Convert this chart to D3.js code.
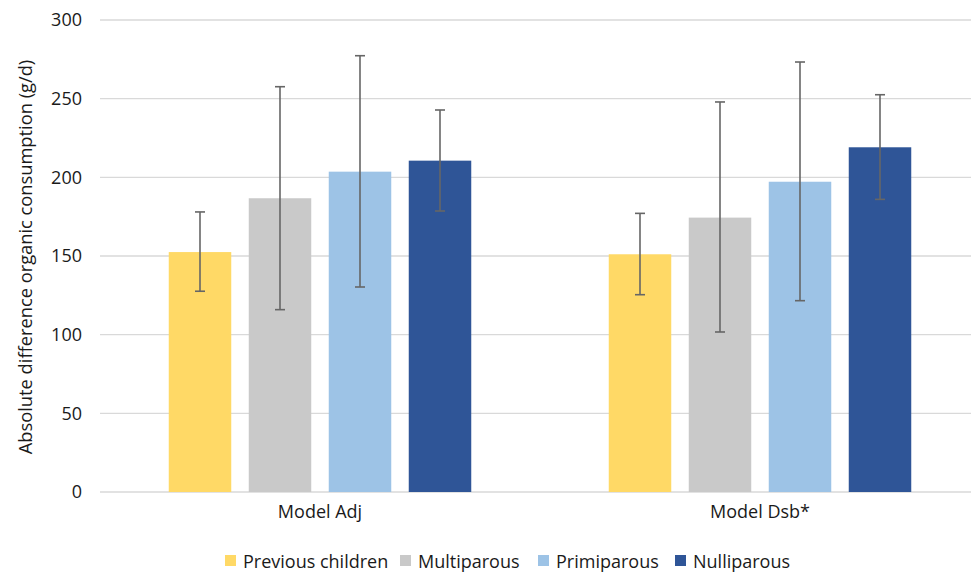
<!DOCTYPE html>
<html>
<head>
<meta charset="utf-8">
<script src="https://cdn.jsdelivr.net/npm/d3@7"></script>
<style>
  html, body { margin: 0; padding: 0; background: #fff; }
  svg { display: block; font-family: "Open Sans", "Noto Sans", sans-serif; }
</style>
</head>
<body>
<svg id="chart" width="971" height="572"></svg>
<script>
// Models compared on the x axis
const models = ["Model Adj", "Model Dsb*"];
// Parity groups (one bar each per model)
const groups = ["Previous children", "Multiparous", "Primiparous", "Nulliparous"];
const groupColors = ["#FFD966", "#C9C9C9", "#9DC3E6", "#2F5597"];
// Estimates per group, one value per model
const estPrevious    = [152.5, 151.1];
const estMultiparous = [186.7, 174.4];
const estPrimiparous = [203.6, 197.2];
const estNulliparous = [210.6, 219.1];
// Lower / upper limits of the error bars
const lowPrevious    = [127.6, 125.4];
const highPrevious   = [178.0, 177.1];
const lowMultiparous = [115.9, 101.7];
const highMultiparous= [257.6, 247.9];
const lowPrimiparous = [130.3, 121.6];
const highPrimiparous= [277.3, 273.3];
const lowNulliparous = [178.6, 186.0];
const highNulliparous= [242.8, 252.5];
const yTicks = [0, 50, 100, 150, 200, 250, 300];
const yTitle = "Absolute difference organic consumption (g/d)";

const estimates = [estPrevious, estMultiparous, estPrimiparous, estNulliparous];
const lows = [lowPrevious, lowMultiparous, lowPrimiparous, lowNulliparous];
const highs = [highPrevious, highMultiparous, highPrimiparous, highNulliparous];

const rows = [];
models.forEach((m, mi) => {
  groups.forEach((g, gi) => {
    rows.push({ model: m, group: g, gi, value: estimates[gi][mi], low: lows[gi][mi], high: highs[gi][mi] });
  });
});

const svg = d3.select("#chart");
const plotLeft = 100, plotRight = 980, plotTop = 20, plotBottom = 492;
const textColor = "#1a1a1a";

const x0 = d3.scaleBand().domain(models).range([plotLeft, plotRight]).paddingInner(0).paddingOuter(0);
// Bars within a model: ~62.5 px wide with ~17.5 px gaps, group centred in its band
const groupWidth = 302.5;
const x1 = d3.scaleBand().domain(groups).range([0, groupWidth]).paddingInner(17.5 / 80).paddingOuter(0);
const y = d3.scaleLinear().domain([0, 300]).range([plotBottom, plotTop]);

// Gridlines
svg.append("g")
  .selectAll("line")
  .data(yTicks)
  .join("line")
  .attr("x1", plotLeft).attr("x2", plotRight)
  .attr("y1", d => y(d)).attr("y2", d => y(d))
  .attr("stroke", "#D9D9D9")
  .attr("stroke-width", 1.3);

// Y axis labels
const yAxis = d3.axisLeft(y).tickValues(yTicks).tickSize(0).tickPadding(18);
const yg = svg.append("g").attr("transform", `translate(${plotLeft},0)`).call(yAxis);
yg.select(".domain").remove();
yg.selectAll("text").attr("font-size", 18).attr("fill", textColor).attr("font-family", "Open Sans, sans-serif");

// Y title
svg.append("text")
  .attr("transform", `translate(24,${(plotTop + plotBottom) / 2 + 1}) rotate(-90)`)
  .attr("text-anchor", "middle")
  .attr("dominant-baseline", "central")
  .attr("font-size", 18.3)
  .attr("fill", textColor)
  .text(yTitle);

// Bars
const bx = d => x0(d.model) + (x0.bandwidth() - groupWidth) / 2 + x1(d.group);
svg.append("g")
  .selectAll("rect")
  .data(rows)
  .join("rect")
  .attr("x", bx)
  .attr("y", d => y(d.value))
  .attr("width", x1.bandwidth())
  .attr("height", d => y(0) - y(d.value))
  .attr("fill", d => groupColors[d.gi]);

// Error bars
const eb = svg.append("g").attr("stroke", "#666666").attr("stroke-width", 1.6);
rows.forEach(d => {
  const cx = bx(d) + x1.bandwidth() / 2;
  eb.append("line").attr("x1", cx).attr("x2", cx).attr("y1", y(d.low)).attr("y2", y(d.high));
  eb.append("line").attr("x1", cx - 5).attr("x2", cx + 5).attr("y1", y(d.low)).attr("y2", y(d.low));
  eb.append("line").attr("x1", cx - 5).attr("x2", cx + 5).attr("y1", y(d.high)).attr("y2", y(d.high));
});

// Category labels
const xAxis = d3.axisBottom(x0).tickSize(0).tickPadding(13);
const xg = svg.append("g").attr("transform", `translate(0,${plotBottom})`).call(xAxis);
xg.select(".domain").remove();
xg.selectAll("text").attr("font-size", 18).attr("fill", textColor).attr("font-family", "Open Sans, sans-serif");

// Legend
const legendItems = [
  { label: groups[0], x: 225 },
  { label: groups[1], x: 400 },
  { label: groups[2], x: 538 },
  { label: groups[3], x: 675 }
];
const lg = svg.append("g");
legendItems.forEach((it, i) => {
  lg.append("rect").attr("x", it.x).attr("y", 555).attr("width", 11).attr("height", 11).attr("fill", groupColors[i]);
  lg.append("text").attr("x", it.x + 18).attr("y", 560.5)
    .attr("dominant-baseline", "central")
    .attr("font-size", 18).attr("fill", textColor).text(it.label);
});
</script>
</body>
</html>
